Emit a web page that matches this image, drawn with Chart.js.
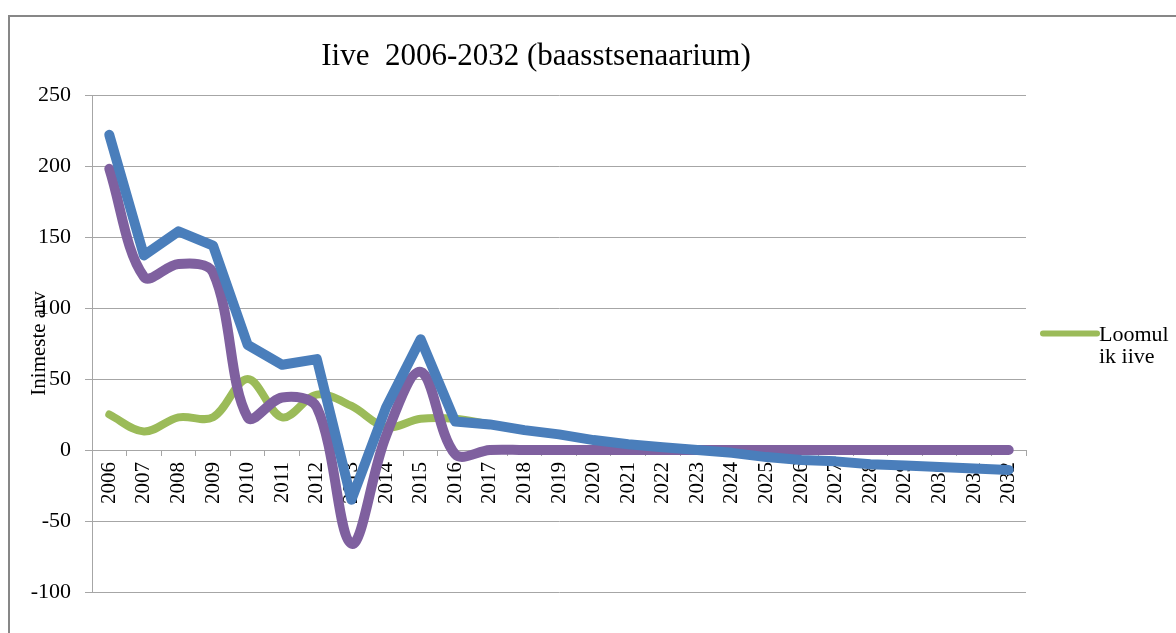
<!DOCTYPE html>
<html>
<head>
<meta charset="utf-8">
<script src="https://cdn.jsdelivr.net/npm/chart.js@4.4.0/dist/chart.umd.min.js"></script>
<style>
  html, body { margin: 0; padding: 0; background: #fff; }
  #wrap { width: 1176px; height: 633px; }
</style>
</head>
<body>
<div id="wrap"><canvas id="graphCanvas" width="1176" height="633"></canvas></div>
<script>
// aastad
const years = ['2006', '2007', '2008', '2009', '2010', '2011', '2012', '2013', '2014',
    '2015', '2016', '2017', '2018', '2019', '2020', '2021', '2022', '2023', '2024',
    '2025', '2026', '2027', '2028', '2029', '2030', '2031', '2032'];

// iive kokku (sinine)
const iive = [222, 137, 154, 144, 74, 60, 64, -35, 30, 78, 20, 18, 14, 11, 7, 4, 2, 0,
    -2, -5, -7, -8, -10, -11, -12, -13, -14];

// rändesaldo (lilla)
const randesaldo = [198, 122, 131, 125, 23, 37, 30, -66, 10, 55, -3, 0, 0, 0, 0, 0, 0, 0,
    0, 0, 0, 0, 0, 0, 0, 0, 0];

// loomulik iive (roheline)
const loomulikIive = [25, 13, 23, 23, 50, 23, 39, 31, 16, 22, 22, 18, 14, 11, 7, 4, 2, 0,
    -2, -5, -7, -8, -10, -11, -12, -13, -14];

const yTicks = [-100, -50, 0, 50, 100, 150, 200, 250];

const chartTitle = 'Iive  2006-2032 (baasstsenaarium)';
const yTitle = 'Inimeste arv';
const legendLines = ['Loomul', 'ik iive'];

const serif = "'Liberation Serif', 'Times New Roman', serif";
const gridColor = '#a6a6a6';

// raam, pealkiri ja legend
const framePlugin = {
    id: 'frame',
    beforeDraw(chart) {
        const ctx = chart.ctx;
        const area = chart.chartArea;
        ctx.save();
        ctx.fillStyle = '#fff';
        ctx.fillRect(0, 0, chart.width, chart.height);
        ctx.strokeStyle = '#878787';
        ctx.lineWidth = 2;
        ctx.strokeRect(9, 16, chart.width + 20, chart.height + 20);
        ctx.fillStyle = '#000';
        ctx.font = '31px ' + serif;
        ctx.textAlign = 'center';
        ctx.textBaseline = 'middle';
        ctx.fillText(chartTitle, (area.left + area.right) / 2 - 23, 57);
        ctx.restore();
    },
    afterDraw(chart) {
        const ctx = chart.ctx;
        const area = chart.chartArea;
        const ds = chart.data.datasets.find(d => d.showInLegend);
        const x = area.right + 17;
        const y = (area.top + area.bottom) / 2 - 10;
        ctx.save();
        ctx.strokeStyle = ds.borderColor;
        ctx.lineWidth = 6;
        ctx.lineCap = 'round';
        ctx.beginPath();
        ctx.moveTo(x, y);
        ctx.lineTo(x + 54, y);
        ctx.stroke();
        ctx.fillStyle = '#000';
        ctx.font = '22px ' + serif;
        ctx.textBaseline = 'middle';
        legendLines.forEach((line, i) => ctx.fillText(line, x + 56, y + 2 + i * 22));
        ctx.restore();
    }
};

const ctx = document.getElementById('graphCanvas').getContext('2d');

const chart = new Chart(ctx, {
    type: 'line',
    data: {
        labels: years,
        datasets: [
            {
                label: 'Iive',
                data: iive,
                borderColor: '#4a7ebb',
                borderWidth: 10,
                tension: 0,
                order: 0,
            },
            {
                label: 'Rändesaldo',
                data: randesaldo,
                borderColor: '#7f609f',
                borderWidth: 10,
                tension: 0.35,
                order: 1,
            },
            {
                label: 'Loomulik iive',
                data: loomulikIive,
                borderColor: '#9bbb59',
                borderWidth: 8,
                tension: 0.35,
                order: 2,
                showInLegend: true,
            },
        ],
    },
    options: {
        responsive: false,
        animation: false,
        layout: {
            padding: { left: 8, top: 95, right: 150, bottom: 41 },
        },
        elements: {
            point: { radius: 0, hoverRadius: 0 },
            line: { borderCapStyle: 'round', borderJoinStyle: 'round', fill: false },
        },
        plugins: {
            legend: { display: false },
            title: { display: false },
            tooltip: { enabled: false },
        },
        scales: {
            x: {
                type: 'category',
                position: { y: 0 },
                offset: true,
                grid: {
                    offset: true,
                    drawOnChartArea: false,
                    drawTicks: true,
                    tickLength: 5,
                    color: gridColor,
                },
                border: { color: gridColor },
                ticks: {
                    autoSkip: false,
                    minRotation: 90,
                    maxRotation: 90,
                    padding: 7,
                    color: '#000',
                    font: { family: serif, size: 21 },
                },
            },
            y: {
                min: -100,
                max: 250,
                afterFit(scale) {
                    scale.width = 84;
                },
                afterBuildTicks(scale) {
                    scale.ticks = yTicks.map(v => ({ value: v }));
                },
                grid: {
                    color: gridColor,
                    tickLength: 7,
                },
                border: { color: gridColor },
                ticks: {
                    padding: 14,
                    color: '#000',
                    font: { family: serif, size: 22 },
                },
                title: {
                    display: true,
                    text: yTitle,
                    color: '#000',
                    padding: { top: 19, bottom: 0 },
                    font: { family: serif, size: 21 },
                },
            },
        },
    },
    plugins: [framePlugin],
});
</script>
</body>
</html>
